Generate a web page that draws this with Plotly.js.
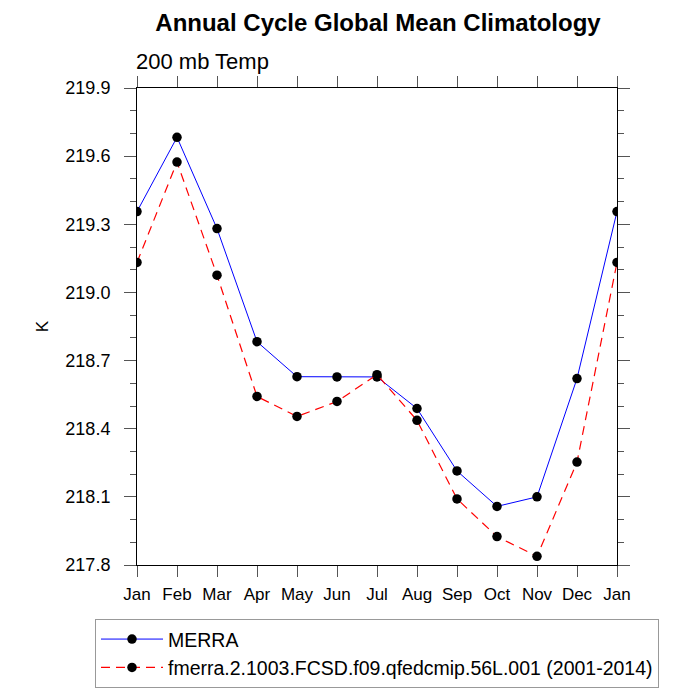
<!DOCTYPE html>
<html>
<head>
<meta charset="utf-8">
<script src="https://cdn.plot.ly/plotly-3.0.1.min.js"></script>
<style>body{margin:0;padding:0;background:#fff}#chart{width:700px;height:700px}</style>
</head>
<body>
<div id="chart"></div>
<script>
var months = ["Jan","Feb","Mar","Apr","May","Jun","Jul","Aug","Sep","Oct","Nov","Dec","Jan"];
var merra = [219.356, 219.683, 219.281, 218.783, 218.629, 218.628, 218.628, 218.489, 218.214, 218.058, 218.100, 218.621, 219.356];
var fmerra = [219.132, 219.574, 219.076, 218.542, 218.454, 218.520, 218.638, 218.437, 218.091, 217.925, 217.838, 218.253, 219.132];
var merraName = "MERRA";
var fmerraName = "fmerra.2.1003.FCSD.f09.qfedcmip.56L.001 (2001-2014)";
var yTicks = [217.8, 218.1, 218.4, 218.7, 219.0, 219.3, 219.6, 219.9];
var yTickText = ["217.8", "218.1", "218.4", "218.7", "219.0", "219.3", "219.6", "219.9"];

var xIdx = months.map(function(m, i){ return i; });

var traces = [
  {x: xIdx, y: merra, name: merraName, mode: "lines+markers", type: "scatter",
   line: {color: "#0000ff", width: 1}, marker: {color: "#000", size: 9.5}},
  {x: xIdx, y: fmerra, name: fmerraName, mode: "lines+markers", type: "scatter",
   line: {color: "#ff0000", width: 1.2, dash: "9px,6px"}, marker: {color: "#000", size: 9.5}}
];

var font = "Liberation Sans, Arial, Helvetica, sans-serif";
var layout = {
  width: 700, height: 700,
  margin: {l: 137, r: 83, t: 88, b: 132},
  paper_bgcolor: "#fff", plot_bgcolor: "#fff",
  font: {family: font, color: "#000", size: 17},
  title: {text: "<b>Annual Cycle Global Mean Climatology</b>", font: {size: 24, family: font},
          x: 0.54, xanchor: "center", y: 0.968, yanchor: "middle"},
  showlegend: true,
  xaxis: {
    range: [0, 12], tickmode: "array", tickvals: xIdx, ticktext: months,
    showgrid: false, zeroline: false, showline: true, linecolor: "#000", linewidth: 1,
    mirror: "allticks", ticks: "outside", ticklen: 11, tickcolor: "#555", tickwidth: 1,
    tickfont: {size: 17}, ticklabelstandoff: 3, fixedrange: true
  },
  yaxis: {
    range: [217.8, 219.9], tickmode: "array", tickvals: yTicks, ticktext: yTickText,
    showgrid: false, zeroline: false, showline: true, linecolor: "#000", linewidth: 1,
    mirror: "allticks", ticks: "outside", ticklen: 12, tickcolor: "#555", tickwidth: 1,
    minor: {dtick: 0.1, tick0: 217.8, ticks: "outside", ticklen: 6, tickcolor: "#555", showgrid: false},
    tickfont: {size: 18}, ticklabelstandoff: 10,
    title: {text: "K", font: {size: 17}, standoff: 12},
    fixedrange: true
  },
  legend: {
    x: -0.0875, y: -0.113, xanchor: "left", yanchor: "top",
    bgcolor: "#fff", bordercolor: "#999", borderwidth: 1,
    font: {size: 19.5, family: font}, itemwidth: 62, tracegroupgap: 0
  },
  annotations: [
    {text: "200 mb Temp", xref: "paper", yref: "paper", x: 0, y: 1.0, xanchor: "left", yanchor: "bottom",
     yshift: 12, xshift: -3, showarrow: false, font: {size: 22, family: font}}
  ]
};

Plotly.newPlot("chart", traces, layout, {displayModeBar: false, staticPlot: true});
</script>
</body>
</html>
